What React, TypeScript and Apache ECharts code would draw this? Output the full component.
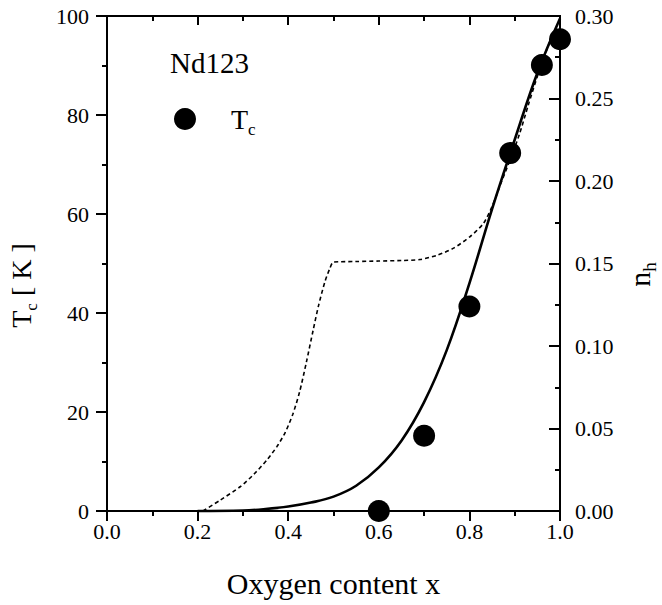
import React, { useEffect, useRef } from "react";
import * as echarts from "echarts";

// Measured Tc points (left axis, K)
const tcX = [0.6, 0.7, 0.8, 0.89, 0.96, 1.0];
const tcY = [0, 15.2, 41.3, 72.3, 90.1, 95.3];

// Solid curve n_h (right axis)
const solidX = [0.2, 0.3, 0.35, 0.4, 0.45, 0.5, 0.55, 0.6, 0.65, 0.7, 0.75, 0.8, 0.85, 0.9, 0.95, 1.0];
const solidNh = [0, 0.0003, 0.0012, 0.0027, 0.0051, 0.0087, 0.0153, 0.0264, 0.0426, 0.066, 0.0975, 0.138, 0.183, 0.225, 0.2655, 0.2985];

// Dashed curve n_h (right axis)
const dashX = [0.212, 0.25, 0.294, 0.325, 0.353, 0.375, 0.393, 0.41, 0.425, 0.44, 0.455, 0.467, 0.481, 0.492, 0.5, 0.55, 0.6, 0.65, 0.691, 0.73, 0.765, 0.801, 0.831, 0.85, 0.87, 0.89, 0.91, 0.93, 0.95, 0.97, 0.985];
const dashNh = [0, 0.0066, 0.0147, 0.0225, 0.0309, 0.039, 0.0474, 0.0585, 0.072, 0.09, 0.1095, 0.1245, 0.1389, 0.147, 0.1509, 0.1512, 0.1515, 0.1518, 0.1524, 0.1551, 0.1593, 0.1662, 0.1743, 0.1845, 0.1989, 0.213, 0.228, 0.246, 0.2634, 0.279, 0.2895];

const FONT = "Liberation Serif";
const INK = "#000";

const GRID = { left: 107, right: 102, top: 16, bottom: 94 };
const W = 662;
const H = 605;

export default function App() {
  const ref = useRef<HTMLDivElement>(null);
  useEffect(() => {
    if (!ref.current) return;
    const chart = echarts.init(ref.current, undefined, { renderer: "svg" });
    const mkLine = () => ({ show: true, onZero: false, lineStyle: { color: INK, width: 2 } });
    const mkTick = (inside: boolean, length: number) => ({
      show: true,
      inside,
      length,
      lineStyle: { color: INK, width: 2 },
    });
    const mkMinor = () => ({ show: true, splitNumber: 2, length: 5, lineStyle: { color: INK, width: 2 } });
    const label = { color: INK, fontFamily: FONT, fontSize: 22 };
    const rich = {
      t: { fontFamily: FONT, fontSize: 28, color: INK },
      s: { fontFamily: FONT, fontSize: 17, color: INK, padding: [20, 0, 0, 0] },
      k: { fontFamily: FONT, fontSize: 28, color: INK, padding: [0, 44, 0, 0] },
      n: { fontFamily: FONT, fontSize: 30, color: INK },
      h: { fontFamily: FONT, fontSize: 19, color: INK, padding: [20, 22, 0, 0] },
    };
    chart.setOption({
      animation: false,
      backgroundColor: "#ffffff",
      title: {
        text: "Nd123",
        left: 165,
        top: 43,
        textStyle: { fontFamily: FONT, fontSize: 29, fontWeight: "normal", color: INK },
      },
      legend: {
        left: 169,
        top: 100,
        data: [{ name: "Tc", icon: "circle" }],
        itemWidth: 22,
        itemHeight: 22,
        formatter: () => "{t|T}{s|c}",
        textStyle: {
          rich: {
            t: { fontFamily: FONT, fontSize: 28, color: INK, padding: [0, 0, 0, 30] },
            s: { fontFamily: FONT, fontSize: 17, color: INK, padding: [20, 0, 0, 0] },
          },
        },
      },
      grid: {
        ...GRID,
        containLabel: false,
        outerBoundsMode: "none",
        show: true,
        borderColor: INK,
        borderWidth: 2,
        backgroundColor: "rgba(0,0,0,0)",
      },
      xAxis: [
        {
          type: "value",
          position: "bottom",
          min: 0,
          max: 1,
          interval: 0.2,
          name: "Oxygen content x",
          nameLocation: "middle",
          nameGap: 57,
          nameTextStyle: { fontFamily: FONT, fontSize: 30, color: INK },
          axisLine: mkLine(),
          axisTick: mkTick(false, 10),
          minorTick: mkMinor(),
          axisLabel: { ...label, margin: 9, formatter: (v: number) => v.toFixed(1) },
          splitLine: { show: false },
        },
        {
          type: "value",
          position: "top",
          min: 0,
          max: 1,
          interval: 0.2,
          axisLine: mkLine(),
          axisTick: mkTick(true, 9),
          minorTick: mkMinor(),
          axisLabel: { show: false },
          splitLine: { show: false },
        },
      ],
      yAxis: [
        {
          type: "value",
          position: "left",
          min: 0,
          max: 100,
          interval: 20,
          name: "{t|T}{s|c}{k| [ K ]}",
          nameLocation: "middle",
          nameRotate: 90,
          nameGap: 67,
          nameTextStyle: { rich },
          axisLine: mkLine(),
          axisTick: mkTick(false, 11),
          minorTick: mkMinor(),
          axisLabel: { ...label, margin: 18 },
          splitLine: { show: false },
        },
        {
          type: "value",
          position: "right",
          min: 0,
          max: 0.3,
          interval: 0.05,
          name: "{n|n}{h|h}",
          nameLocation: "middle",
          nameRotate: 90,
          nameGap: 55,
          nameTextStyle: { rich },
          axisLine: mkLine(),
          axisTick: mkTick(true, 11),
          minorTick: mkMinor(),
          axisLabel: { ...label, margin: 15, formatter: (v: number) => v.toFixed(2) },
          splitLine: { show: false },
        },
      ],
      series: [
        {
          name: "n_h dashed",
          type: "line",
          yAxisIndex: 1,
          showSymbol: false,
          symbol: "none",
          smooth: 0.25,
          clip: false,
          data: dashX.map((x, i) => [x, dashNh[i]]),
          lineStyle: { color: INK, width: 1.6, type: [4, 3] },
          z: 2,
        },
        {
          name: "n_h",
          type: "line",
          yAxisIndex: 1,
          showSymbol: false,
          symbol: "none",
          smooth: 0.4,
          clip: false,
          data: solidX.map((x, i) => [x, solidNh[i]]),
          lineStyle: { color: INK, width: 2.6 },
          z: 3,
        },
        {
          name: "Tc",
          type: "scatter",
          yAxisIndex: 0,
          symbol: "circle",
          symbolSize: 22,
          clip: false,
          data: tcX.map((x, i) => [x, tcY[i]]),
          itemStyle: { color: INK, opacity: 1 },
          z: 4,
        },
      ],
    });
    return () => chart.dispose();
  }, []);
  return <div ref={ref} style={{ position: "absolute", left: 0, top: 0, width: W, height: H }} />;
}
